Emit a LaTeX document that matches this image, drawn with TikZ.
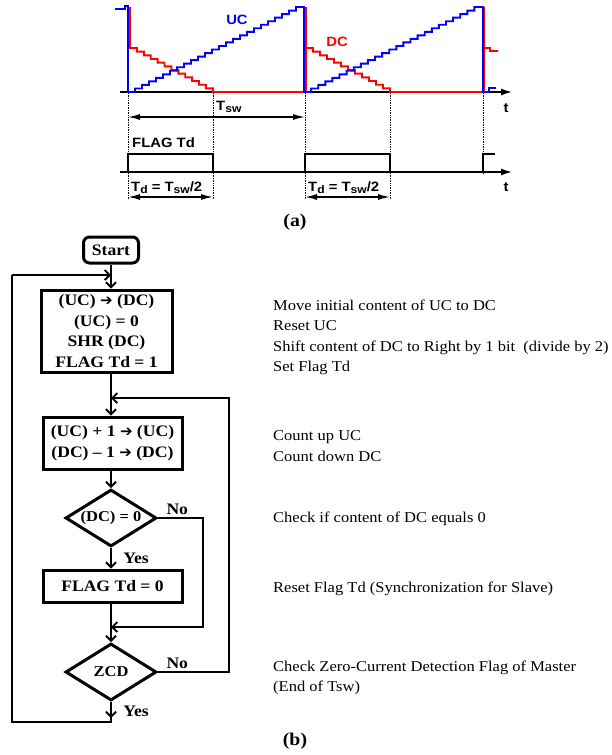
\documentclass[tikz,border=0pt]{standalone}
\usepackage{fontspec}
\setmainfont{Liberation Serif}[FakeStretch=1.1]
\newfontfamily\wavefont{Liberation Sans}[FakeStretch=1.1]
\newfontfamily\arrowfont{DejaVu Sans}
\usetikzlibrary{shapes.geometric, arrows.meta, positioning}
\newcommand{\flowsize}{\fontsize{15}{20.5}\selectfont}
\newcommand{\boxsize}{\fontsize{16}{20.5}\selectfont}
\newcommand{\wavesize}{\fontsize{13.5}{14}\selectfont}
\newcommand{\toarr}{{\arrowfont\bfseries\fontsize{15}{15}\selectfont ➔}}
\newcommand{\Tsub}[1]{T\raisebox{-2.5pt}{\fontsize{11}{11}\selectfont #1}}

\begin{document}
\begin{tikzpicture}[x=1pt, y=-1pt, font=\flowsize,
    box/.style={draw, line width=3pt, font=\boxsize\bfseries, align=center, inner sep=2pt},
    test/.style={draw, diamond, line width=3pt, minimum width=91pt, minimum height=57pt, inner sep=0pt,
      label={[font=\flowsize\bfseries]center:#1}},
    flow/.style={line width=1.9pt},
    barb/.style={-{Straight Barb[length=5pt,width=10pt]}},
    note/.style={anchor=west, align=left, inner sep=0pt, font=\flowsize},
    wave/.style={line width=1.9pt, line join=miter},
    wlab/.style={font=\wavefont\bfseries\wavesize, inner sep=0pt},
    dim/.style={line width=1.5pt, {Latex[length=12pt,width=6pt]}-{Latex[length=12pt,width=6pt]}}]
\useasboundingbox (0,0) rectangle (611,755);

% (a) counters UC and DC
\draw[line width=1.5pt, -{Latex[length=11pt,width=7pt]}] (120,92) -- (512,92);
\node[wlab] (t1) at (506,108) {t};
\draw[red, wave] (130,7) -- (130,48) \foreach \i in {1,...,12} { -- ++(6.9,0) -- ++(0,3.67) }
  -- (306,92) -- (306,7) -- (306,48) \foreach \i in {1,...,12} { -- ++(7,0) -- ++(0,3.67) }
  -- (484,92) -- (484,7) -- (484,48) -- (490,48) -- (490,51) -- (498,51);
\draw[blue, wave] (115,9) -- (125,9) -- (125,6) -- (128,6) -- (128,92) \foreach \i in {1,...,24} { -- ++(7,0) -- ++(0,-3.54) }
  -- (304,7) -- (304,92) \foreach \i in {1,...,24} { -- ++(7.1,0) -- ++(0,-3.54) }
  -- (483,7) -- (483,92) -- (489,92) -- (489,88) -- (496,88);
\node[wlab, blue] (uclab) at (237,20) {UC};
\node[wlab, red] (dclab) at (337,42) {DC};
\foreach \x in {128,213,305,390}
  \draw[densely dotted, line width=0.7pt] (\x,93) -- (\x,200);
\draw[densely dotted, line width=0.7pt] (483,93) -- (483,173);
\draw[dim] (128,117) -- (305,117);
\node[wlab, anchor=base west] (tsw) at (216,110) {\Tsub{sw}};

% flag Td
\draw[line width=1.5pt, -{Latex[length=11pt,width=7pt]}] (120,172) -- (512,172);
\node[wlab] (t2) at (506,187) {t};
\draw[wave] (120,172) -- (128,172) -- (128,154) -- (213,154) -- (213,172) -- (305,172) -- (305,154)
  -- (390,154) -- (390,172) -- (483,172) -- (483,154) -- (495,154);
\node[wlab, anchor=west] (flaglab) at (132,143) {FLAG Td};
\node[wlab, anchor=base west] (td1) at (131,191) {\Tsub{d} = \Tsub{sw}/2};
\node[wlab, anchor=base west] (td2) at (308,191) {\Tsub{d} = \Tsub{sw}/2};
\draw[dim] (128,197) -- (213,197);
\draw[dim] (305,197) -- (390,197);
\node[font=\fontsize{18}{18}\selectfont\bfseries] (capa) at (295,222) {(a)};

% (b) flowchart
\node[box, rounded corners=6pt, minimum width=55pt, minimum height=26pt] (start) at (111,250) {Start};
\node[box, minimum width=131pt, minimum height=82pt] (init) at (106.5,331) {(UC) \toarr{} (DC)\\ (UC) = 0\\ SHR (DC)\\ FLAG Td = 1};
\node[box, minimum width=139pt, minimum height=52pt] (count) at (112.5,443) {(UC) + 1 \toarr{} (UC)\\ (DC) -- 1 \toarr{} (DC)};
\node[test={(DC) = 0}] (dczero) at (111,518) {};
\node[box, minimum width=139pt, minimum height=32pt] (clear) at (112.5,586) {FLAG Td = 0};
\node[test={ZCD}] (zcd) at (111,672) {};

\coordinate (loopin) at (111,275);
\coordinate (lleft) at (12,275);
\coordinate (lbottom) at (111,722);
\coordinate (loopback) at (111,398);
\coordinate (rloop) at (229,398);
\coordinate (skip) at (111,627);
\coordinate (rskip) at (203,518);

\draw[flow, barb] (start) -- (start |- init.north);
\draw[flow, barb] (init.south -| start) -- (count.north -| start);
\draw[flow, barb] (count.south -| start) -- (dczero.north);
\draw[flow, barb] (dczero.south) -- node[right=8pt, font=\boxsize\bfseries]{Yes} (clear.north -| dczero);
\draw[flow, barb] (dczero.east) -- (rskip) |- (skip);
\node[font=\boxsize\bfseries, above right=0pt and 5pt of dczero.east] (no1) {No};
\draw[flow, barb] (clear.south -| dczero) -- (zcd.north);
\draw[flow, barb] (zcd.east) -| (rloop) -- (loopback);
\node[font=\boxsize\bfseries, above right=0pt and 5pt of zcd.east] (no2) {No};
\draw[flow] (zcd.south) -- (lbottom) -| (lleft);
\draw[flow, barb] (lleft) -- (loopin);
\draw[flow, barb] (zcd.south) -- node[pos=0.6, right=8pt, font=\boxsize\bfseries]{Yes} ++(0,16);

\node[note] (n1) at (273,337.5) {Move initial content of UC to DC\\Reset UC\\Shift content of DC to Right by 1 bit\ \ (divide by 2)\\Set Flag Td};
\node[note] (n2) at (273,446) {Count up UC\\Count down DC};
\node[note] (n3) at (273,519) {Check if content of DC equals 0};
\node[note] (n4) at (273,589) {Reset Flag Td (Synchronization for Slave)};
\node[note] (n5) at (273,678) {Check Zero-Current Detection Flag of Master\\(End of Tsw)};
\node[font=\fontsize{18}{18}\selectfont\bfseries] (capb) at (295,741) {(b)};
\end{tikzpicture}
\end{document}
